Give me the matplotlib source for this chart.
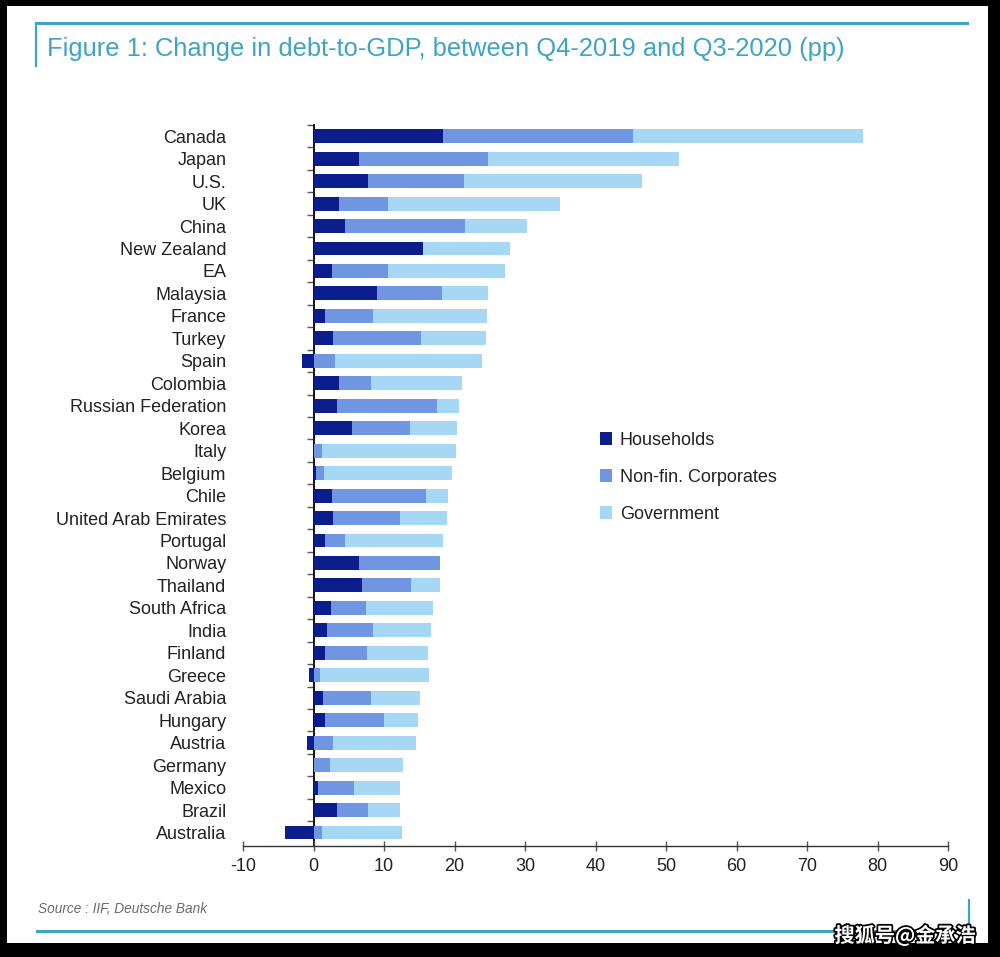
#!/usr/bin/env python3
"""Stacked bars: change in debt-to-GDP between Q4-2019 and Q3-2020, by sector."""
import numpy as np
import matplotlib
matplotlib.use("Agg")
import matplotlib.pyplot as plt  # noqa: E402
import matplotlib.patheffects as pe  # noqa: E402
from matplotlib.patches import Rectangle  # noqa: E402
from matplotlib.lines import Line2D  # noqa: E402

countries = ["Canada", "Japan", "U.S.", "UK", "China", "New Zealand", "EA",
             "Malaysia", "France", "Turkey", "Spain", "Colombia",
             "Russian Federation", "Korea", "Italy", "Belgium", "Chile",
             "United Arab Emirates", "Portugal", "Norway", "Thailand",
             "South Africa", "India", "Finland", "Greece", "Saudi Arabia",
             "Hungary", "Austria", "Germany", "Mexico", "Brazil", "Australia"]
households = [18.3, 6.4, 7.7, 3.6, 4.4, 15.6, 2.6, 9.0, 1.7, 2.8, -1.7, 3.6,
              3.4, 5.4, 0.1, 0.4, 2.6, 2.8, 1.7, 6.5, 6.9, 2.5, 1.9, 1.7,
              -0.6, 1.4, 1.7, -0.9, 0.0, 0.7, 3.3, -4.0]
corporates = [27.0, 18.3, 13.6, 7.0, 17.1, 0.0, 8.0, 9.2, 6.7, 12.5, 3.1, 4.6,
              14.1, 8.3, 1.1, 1.1, 13.4, 9.4, 2.7, 11.5, 6.9, 4.9, 6.5, 5.9,
              0.9, 6.8, 8.3, 2.8, 2.3, 5.1, 4.4, 1.2]
government = [32.7, 27.1, 25.3, 24.3, 8.8, 12.3, 16.5, 6.5, 16.2, 9.2, 20.8,
              12.8, 3.2, 6.7, 19.0, 18.1, 3.1, 6.7, 13.9, 0.0, 4.2, 9.6, 8.3,
              8.7, 15.5, 6.9, 4.8, 11.8, 10.4, 6.5, 4.5, 11.4]
series_names = ["Households", "Non-fin. Corporates", "Government"]
xticks = list(range(-10, 100, 10))

NAVY = "#0b1e8c"
MID = "#7096e2"
LIGHT = "#a6d8f6"
TEAL = "#3fa3c4"

W, H = 1000, 957
plt.rcParams["font.family"] = ["Liberation Sans", "DejaVu Sans"]

fig = plt.figure(figsize=(W / 100, H / 100), dpi=100, facecolor="black")
# white page inside the black frame
fig.patches.append(Rectangle((7 / W, 1 - 943 / H), (988 - 7) / W, (943 - 6) / H,
                             transform=fig.transFigure, facecolor="white",
                             edgecolor="none", zorder=-5))


def px_line(x0, y0, x1, y1, **kw):
    fig.add_artist(Line2D([x0 / W, x1 / W], [1 - y0 / H, 1 - y1 / H],
                          transform=fig.transFigure, **kw))


px_line(36, 23, 967, 23, color=TEAL, lw=2.2)
px_line(36, 23, 36, 66, color=TEAL, lw=1.6)
px_line(37, 931, 968, 931, color=TEAL, lw=2.2)
px_line(969, 900, 969, 931, color=TEAL, lw=1.6)

fig.text(47 / W, 1 - 49 / H,
         "Figure 1: Change in debt-to-GDP, between Q4-2019 and Q3-2020 (pp)",
         fontsize=18.4, color=TEAL, va="center", ha="left")
fig.text(38 / W, 1 - 909 / H, "Source : IIF, Deutsche Bank", fontsize=9.8,
         color="#6b6b6b", style="italic", va="center", ha="left")

ax = fig.add_axes([243 / W, 1 - 846 / H, (948 - 243) / W, (846 - 125) / H])
ax.set_facecolor("white")

y = np.arange(len(countries))
hh = np.array(households)
co = np.array(corporates)
gv = np.array(government)
co_left = np.clip(hh, 0, None)
gv_left = co_left + co
bh = 0.62
ax.barh(y, hh, height=bh, color=NAVY, label=series_names[0], zorder=2)
ax.barh(y, co, left=co_left, height=bh, color=MID, label=series_names[1], zorder=2)
ax.barh(y, gv, left=gv_left, height=bh, color=LIGHT, label=series_names[2], zorder=2)

ax.set_xlim(-10, 90)
ax.set_ylim(len(countries) - 0.4, -0.5)

for s in ["top", "right", "left"]:
    ax.spines[s].set_visible(False)
ax.spines["bottom"].set_color("#333333")
ax.spines["bottom"].set_linewidth(1.0)

ax.set_xticks(xticks)
ax.set_xticklabels([str(t) for t in xticks], fontsize=13, color="#222222")
ax.tick_params(axis="x", direction="inout", length=7, width=1.0,
               color="#555555", pad=5)

ax.set_yticks(y)
ax.set_yticklabels(countries, fontsize=13, color="#222222")
ax.tick_params(axis="y", length=0, pad=12)

# zero line with category-boundary ticks
zero = ax.secondary_yaxis(0.1)
zero.set_yticks(np.arange(-0.5, len(countries) - 1, 1.0))
zero.set_yticklabels([])
zero.tick_params(axis="y", length=5, width=1.0, color="#555555")
zero.spines["left"].set_color("#111111")
zero.spines["left"].set_linewidth(1.4)

leg = ax.legend(loc="upper left", bbox_to_anchor=(0.483, 0.597), frameon=False,
                fontsize=13, handlelength=0.7, handleheight=0.7,
                handletextpad=0.4, labelspacing=1.1)
for t in leg.get_texts():
    t.set_color("#222222")

# watermark
fig.text(905 / W, 1 - 936 / H, "搜狐号@金承浩", fontsize=14.5, color="white",
         fontweight="bold", ha="center", va="center",
         family=["Noto Sans CJK SC", "DejaVu Sans"],
         path_effects=[pe.withStroke(linewidth=2.5, foreground="black")])

fig.savefig("out.png", dpi=100, facecolor="black")
